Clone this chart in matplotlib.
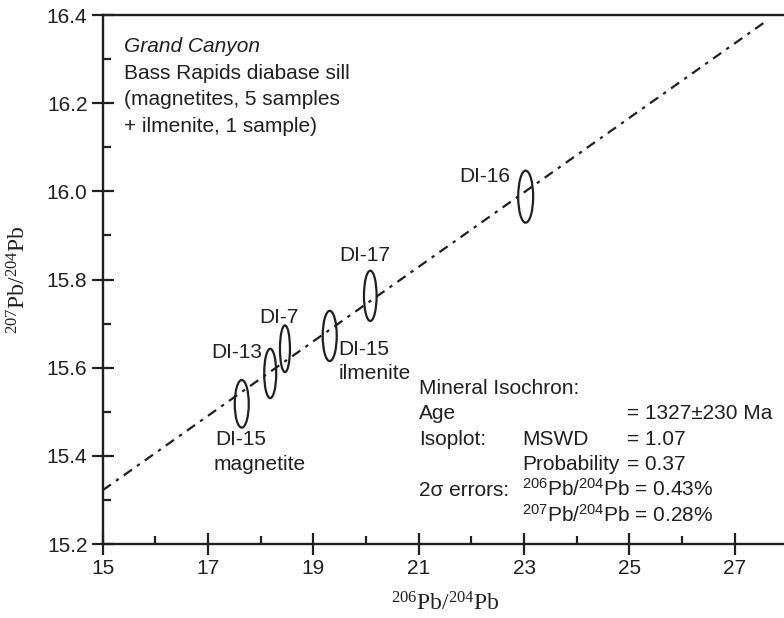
import matplotlib
matplotlib.use('Agg')
import matplotlib.pyplot as plt
from matplotlib.patches import Ellipse
from matplotlib.ticker import MultipleLocator, FormatStrFormatter

plt.rcParams['font.family'] = 'Liberation Sans'
plt.rcParams['mathtext.fontset'] = 'custom'
plt.rcParams['mathtext.rm'] = 'Liberation Sans'

INK = '#231f20'

# Pb-Pb ratios for each sample (ellipse centres) and 2-sigma half widths
samples = ['DI-15 magnetite', 'DI-13', 'DI-7', 'DI-15 ilmenite', 'DI-17', 'DI-16']
pb206_204 = [17.64, 18.18, 18.46, 19.31, 20.08, 23.03]
pb207_204 = [15.518, 15.587, 15.643, 15.672, 15.763, 15.988]
err206 = [0.133, 0.114, 0.095, 0.133, 0.120, 0.142]
err207 = [0.054, 0.056, 0.053, 0.057, 0.057, 0.059]

# fitted isochron end points
iso_x = [15.0, 27.63]
iso_y = [15.322, 16.389]

# sample labels (text, x, baseline y)
labels = [
    ('DI-15', 17.13, 15.425),
    ('magnetite', 17.11, 15.367),
    ('DI-13', 17.07, 15.621),
    ('DI-7', 17.97, 15.702),
    ('DI-15', 19.47, 15.629),
    ('ilmenite', 19.47, 15.574),
    ('DI-17', 19.49, 15.842),
    ('DI-16', 21.77, 16.022),
]

title_lines = ['Grand Canyon', 'Bass Rapids diabase sill',
               '(magnetites, 5 samples', '+ ilmenite, 1 sample)']
title_y = [16.315, 16.255, 16.195, 16.135]

pb6 = r'$\mathregular{^{206}}$Pb/$\mathregular{^{204}}$Pb'
pb7 = r'$\mathregular{^{207}}$Pb/$\mathregular{^{204}}$Pb'

# results block: (text, x, baseline y)
stats = [
    ('Mineral Isochron:', 21.0, 15.541),
    ('Age', 21.0, 15.484),
    ('= 1327\u00b1230 Ma', 24.955, 15.484),
    ('Isoplot:', 21.0, 15.425),
    ('MSWD', 22.96, 15.425),
    ('= 1.07', 24.955, 15.425),
    ('Probability', 22.96, 15.367),
    ('= 0.37', 24.955, 15.367),
    ('2\u03c3 errors:', 21.0, 15.309),
    (pb6 + ' = 0.43%', 22.96, 15.309),
    (pb7 + ' = 0.28%', 22.96, 15.251),
]

fig = plt.figure(figsize=(7.84, 6.18), dpi=100)
ax = fig.add_axes([0.131, 0.1197, 0.8734, 0.856])

ax.plot(iso_x, iso_y, color=INK, lw=1.6, dashes=(4.5, 2.8, 1.5, 2.8))

for x, y, ex, ey in zip(pb206_204, pb207_204, err206, err207):
    ax.add_patch(Ellipse((x, y), 2 * ex, 2 * ey, fill=False,
                         edgecolor=INK, lw=1.6))

for txt, x, y in labels:
    ax.text(x, y, txt, fontsize=15, color=INK, va='baseline')

for i, (txt, y) in enumerate(zip(title_lines, title_y)):
    ax.text(15.40, y, txt, fontsize=15, color=INK, va='baseline',
            style='italic' if i == 0 else 'normal')

for txt, x, y in stats:
    ax.text(x, y, txt, fontsize=15, color=INK, va='baseline')

ax.set_xlim(15, 28)
ax.set_ylim(15.2, 16.4)
ax.xaxis.set_major_locator(MultipleLocator(2, offset=1))
ax.xaxis.set_minor_locator(MultipleLocator(1))
ax.yaxis.set_major_locator(MultipleLocator(0.2))
ax.yaxis.set_minor_locator(MultipleLocator(0.1))
ax.yaxis.set_major_formatter(FormatStrFormatter('%.1f'))

ax.tick_params(which='major', direction='inout', length=16, width=1.6,
               colors=INK, labelsize=15, pad=3)
ax.tick_params(which='minor', direction='in', length=5.5, width=1.6,
               colors=INK)
ax.spines['right'].set_visible(False)
for s in ['left', 'bottom', 'top']:
    ax.spines[s].set_linewidth(1.7)
    ax.spines[s].set_color(INK)

ax.set_xlabel(r'$\mathregular{^{206}}$Pb/$\mathregular{^{204}}$Pb',
              family='Liberation Serif', fontsize=17, color=INK, labelpad=10)
ax.set_ylabel(r'$\mathregular{^{207}}$Pb/$\mathregular{^{204}}$Pb',
              family='Liberation Serif', fontsize=17, color=INK, labelpad=12)

fig.savefig('out.png', dpi=100)
